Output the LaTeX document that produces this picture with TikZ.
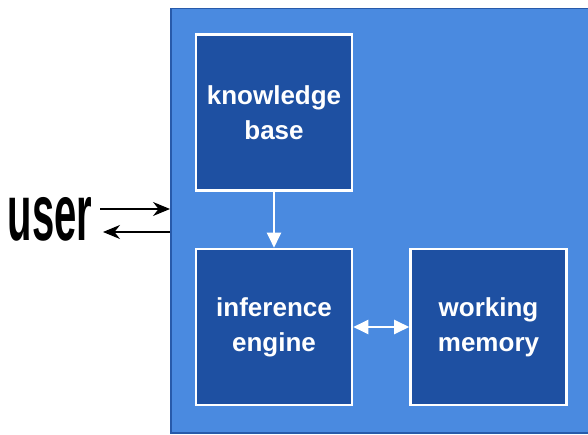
\documentclass[tikz,border=0pt]{standalone}
\usepackage{fontspec}
\setmainfont{Liberation Sans}
\usetikzlibrary{arrows.meta}
\definecolor{bgblue}{RGB}{74,138,224}
\definecolor{edgeblue}{RGB}{40,90,170}
\definecolor{boxblue}{RGB}{30,80,162}
\tikzset{
  modbox/.style={draw=white, line width=2.6pt, fill=boxblue, minimum width=156pt, minimum height=156pt,
    text=white, font=\bfseries\fontsize{26}{35}\selectfont, align=center, inner sep=0pt},
  flow/.style={draw=white, line width=2.4pt, -{Triangle[length=15pt,width=14pt]}},
  dflow/.style={draw=white, line width=2.4pt, {Triangle[length=15pt,width=14pt]}-{Triangle[length=15pt,width=14pt]}},
  userarrow/.style={draw=black, line width=1.4pt, -{Stealth[length=17pt,width=14pt]}}
}
\begin{document}
\begin{tikzpicture}[x=1pt,y=-1pt]
\clip (0,0) rectangle (588,435);
\fill[white] (0,0) rectangle (588,435);
\node[draw=edgeblue, line width=1.5pt, fill=bgblue, minimum width=440pt, minimum height=424pt, inner sep=0pt, anchor=north west] (sys) at (170,8) {};
\node[modbox] (kb) at (274,112.5) {knowledge\\base};
\node[modbox] (ie) at (274,327) {inference\\engine};
\node[modbox] (wm) at (488.5,327) {working\\memory};
\draw[flow] (kb.south) -- (ie.north);
\draw[dflow] (ie.east) -- (wm.west);
\node[font=\bfseries\fontsize{80}{80}\selectfont, xscale=0.5, anchor=base] (user) at (50,241) {user};
\coordinate (u1) at (100,209);
\coordinate (u2) at (103,232);
\draw[userarrow] (u1) -- (u1 -| sys.west);
\draw[userarrow] (u2 -| sys.west) -- (u2);
\end{tikzpicture}
\end{document}
